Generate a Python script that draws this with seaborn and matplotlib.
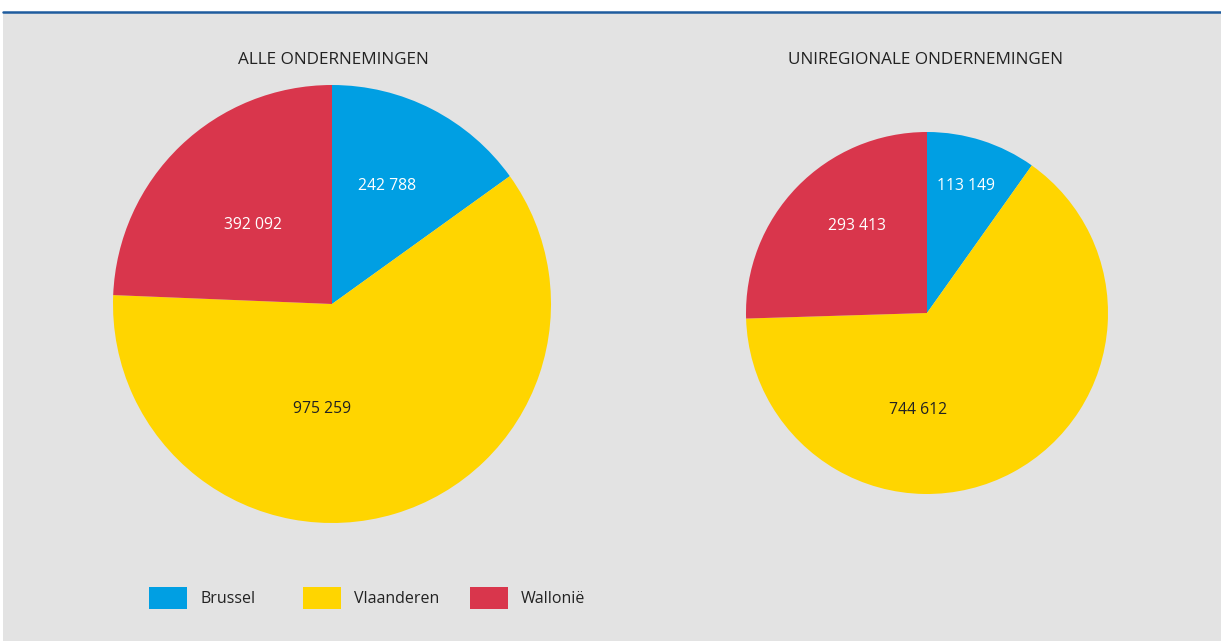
import matplotlib
matplotlib.use("Agg")
import matplotlib.pyplot as plt
import seaborn as sns
from matplotlib.patches import Rectangle, Patch
from matplotlib.lines import Line2D

regions = ["Brussel", "Vlaanderen", "Wallonië"]
alle = [242788, 975259, 392092]
uniregionaal = [113149, 744612, 293413]
titles = ["ALLE ONDERNEMINGEN", "UNIREGIONALE ONDERNEMINGEN"]
colors = ["#009FE3", "#FFD500", "#D9364C"]
label_colors = ["white", "#222222", "white"]

sns.set_theme(style="white")
plt.rcParams['font.family'] = ['Open Sans', 'DejaVu Sans']

W, H = 1221, 641
fig = plt.figure(figsize=(W / 100, H / 100), dpi=100, facecolor="white")

# grey panel and top rule
fig.patches.append(Rectangle((3 / W, 0), 1 - 3 / W, (H - 13) / H, transform=fig.transFigure,
                             facecolor="#E3E3E3", edgecolor="none", zorder=-5))
fig.lines.append(Line2D([3 / W, 1], [(H - 12) / H, (H - 12) / H], transform=fig.transFigure,
                        color="#1F5C9E", linewidth=1.8, zorder=-4))

def fmt(v):
    return f"{v:,}".replace(",", " ")

# (center x, center y, radius) in pixels, label offsets (dx, dy) in radius units
specs = [
    (332, 304, 219, [(0.25, 0.54), (-0.045, -0.48), (-0.36, 0.36)], 333),
    (927, 313, 181, [(0.215, 0.70), (-0.05, -0.535), (-0.385, 0.48)], 925),
]

for (cx, cy, r, offs, tx), vals, title in zip(specs, [alle, uniregionaal], titles):
    ax = fig.add_axes([(cx - r) / W, (H - cy - r) / H, 2 * r / W, 2 * r / H])
    ax.patch.set_visible(False)
    ax.pie(vals, colors=colors, startangle=90, counterclock=False, radius=1,
           wedgeprops=dict(linewidth=0))
    ax.set_xlim(-1, 1)
    ax.set_ylim(-1, 1)
    ax.set_aspect("equal")
    ax.axis("off")
    for (dx, dy), v, c in zip(offs, vals, label_colors):
        ax.text(dx, dy, fmt(v), ha="center", va="center", color=c, fontsize=11.3)
    fig.text(tx / W, (H - 60) / H, title, ha="center", va="center",
             fontsize=12.3, color="#222222")

# legend entries
leg_x = [149, 303, 470]
for x, name, col in zip(leg_x, regions, colors):
    leg = fig.legend(handles=[Patch(facecolor=col, edgecolor="none", label=name)],
                     loc="center left", bbox_to_anchor=(x / W, (H - 598) / H),
                     frameon=False, fontsize=11.5, handlelength=2.4, handleheight=1.7,
                     handletextpad=0.8, borderpad=0, borderaxespad=0, labelcolor="#222222")

fig.savefig("out.png", dpi=100, facecolor="white")
